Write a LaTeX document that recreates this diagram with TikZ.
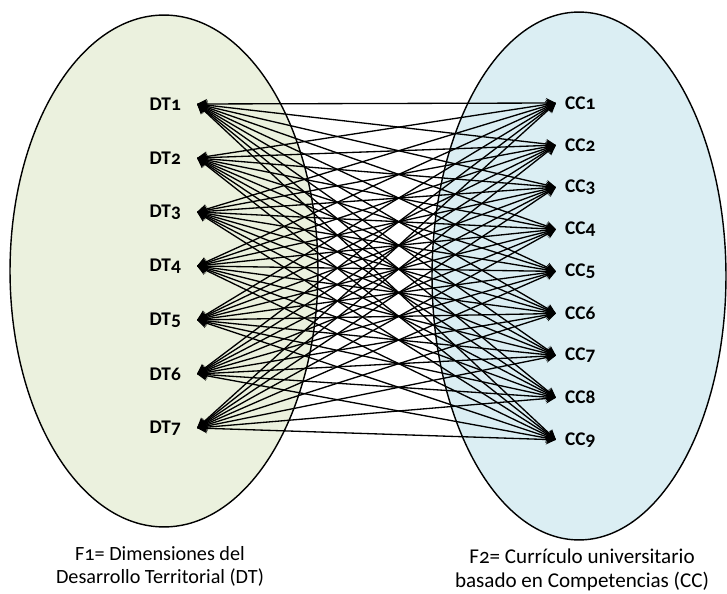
\documentclass[tikz,border=0pt]{standalone}
\usepackage{fontspec}
\setmainfont[Numbers=OldStyle]{Carlito}
\usepackage{tikz}
\usetikzlibrary{arrows.meta, shapes.geometric}

\definecolor{dtgreen}{HTML}{EBF1DE}
\definecolor{ccblue}{HTML}{DBEEF3}

\tikzset{
    zone/.style={ellipse, draw=black, line width=0.8pt, inner sep=0pt},
    dtlabel/.style={anchor=east, inner xsep=9pt, inner ysep=1pt, font=\bfseries\fontsize{11}{12}\selectfont},
    cclabel/.style={anchor=west, inner xsep=5pt, inner ysep=1pt, font=\bfseries\fontsize{11}{12}\selectfont},
    link/.style={line width=0.75pt, {Stealth[length=2mm, width=2mm]}-{Stealth[length=2mm, width=2mm]}},
    caption/.style={align=center, font=\fontsize{11.5}{13}\selectfont}
}

\begin{document}
\begin{tikzpicture}[x=0.02cm, y=-0.02cm]

    \useasboundingbox (0,0) rectangle (727,594);

    % the two factor zones
    \node[zone, fill=dtgreen, minimum width=6.16cm, minimum height=10.24cm] (dtzone) at (164,271) {};
    \node[zone, fill=ccblue, minimum width=5.88cm, minimum height=10.56cm] (cczone) at (579,276) {};

    % labels
    \foreach \i in {1,...,7}
    \node[dtlabel] (dt\i) at (197,{104+54*(\i-1)}) {DT\i};

    \foreach \j in {1,...,9}
    \node[cclabel] (cc\j) at (556,{103+42.1*(\j-1)}) {CC\j};

    % every DT linked with every CC
    \foreach \i in {1,...,7}
    \foreach \j in {1,...,9}
    \draw[link] (dt\i.east) -- (cc\j.west);

    \node[caption] (f1) at (160,566) {F1= Dimensiones del\\Desarrollo Territorial (DT)};
    \node[caption, font=\fontsize{12}{13.5}\selectfont] (f2) at (582,570) {F2= Currículo universitario\\basado en Competencias (CC)};
\end{tikzpicture}
\end{document}
